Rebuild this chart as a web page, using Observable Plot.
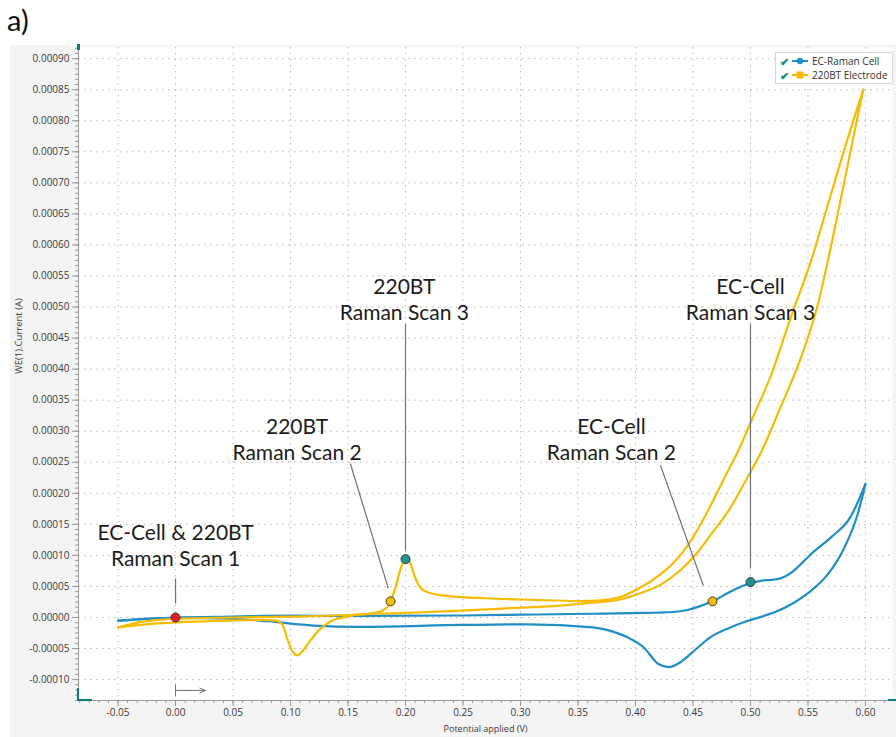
<!DOCTYPE html>
<html><head><meta charset="utf-8">
<script src="https://cdn.jsdelivr.net/npm/d3@7"></script>
<script src="https://cdn.jsdelivr.net/npm/@observablehq/plot@0.6"></script>
<style>
body{margin:0;background:#fff;}
#wrap{position:relative;width:896px;height:737px;overflow:hidden;font-family:"Open Sans",sans-serif;}
#bg{position:absolute;left:10px;top:45px;right:0;bottom:0;background:#f4f4f4;}
#chart{position:absolute;left:0;top:0;}
#panel{position:absolute;left:7px;top:2px;font:29px Lato,sans-serif;color:#111;}
#legend{position:absolute;left:775px;top:52px;width:116px;height:30px;border:1px solid #d6d6d6;background:#fff;font:10px "Open Sans",sans-serif;color:#333;}
.row{position:absolute;left:4px;height:14px;display:flex;align-items:center;white-space:nowrap;}
.chk{color:#1b8f86;font-size:11px;width:12px;font-weight:bold;}
.h{position:absolute;background:#0f7d77;}
</style></head>
<body><div id="wrap"><div id="bg"></div><div id="chart"></div><div id="panel">a)</div><div id="legend"></div>
<div class="h" style="left:77px;top:44px;width:3px;height:6px"></div>
<div class="h" style="left:77px;top:688px;width:2px;height:13px"></div>
<div class="h" style="left:77px;top:699px;width:15px;height:2px"></div>
<div class="h" style="left:888px;top:699px;width:8px;height:2px"></div>
</div>
<script>
// ---- data (potential V, current A) ----
const seriesNames = ["EC-Raman Cell", "220BT Electrode"];
const seriesColors = ["#1f8fc6", "#f7bb00"];

const ecForward = [
  [-0.05,-5e-6],[-0.026,-2.4e-6],[0.0,0],[0.05,1.6e-6],[0.10,3.0e-6],[0.16,2.5e-6],
  [0.25,3.2e-6],[0.30,4.5e-6],[0.363,6.0e-6],[0.41,7.5e-6],[0.425,8.2e-6],[0.437,9.6e-6],
  [0.446,1.25e-5],[0.455,1.75e-5],[0.467,2.6e-5],[0.480,3.9e-5],[0.492,5.0e-5],[0.501,5.6e-5],
  [0.510,5.95e-5],[0.518,6.05e-5],[0.526,6.3e-5],[0.532,6.8e-5],[0.538,7.6e-5],[0.546,9.0e-5],
  [0.555,1.06e-4],[0.570,1.29e-4],[0.587,1.62e-4],[0.600,2.15e-4]
];
const ecReverse = [
  [0.600,2.15e-4],[0.593,1.65e-4],[0.581,1.10e-4],[0.567,6.9e-5],[0.552,4.2e-5],[0.537,2.3e-5],
  [0.523,1.0e-5],[0.509,1e-6],[0.494,-7.6e-6],[0.480,-1.8e-5],[0.465,-3.2e-5],[0.452,-5.2e-5],
  [0.439,-7.2e-5],[0.429,-8.0e-5],[0.420,-7.5e-5],[0.407,-4.8e-5],[0.393,-3.2e-5],[0.375,-2.0e-5],
  [0.363,-1.6e-5],[0.306,-1.1e-5],[0.25,-1.2e-5],[0.16,-1.5e-5],[0.12,-1.3e-5],[0.08,-6e-6],
  [0.05,-2e-6],[0.0,-5e-7],[-0.05,-5e-6]
];
const btForward = [
  [-0.05,-1.6e-5],[-0.035,-9e-6],[-0.015,-4e-6],[0.0,-2e-6],[0.05,0],[0.10,1.5e-6],[0.15,4.0e-6],
  [0.172,7e-6],[0.181,1.2e-5],[0.187,2.6e-5],[0.192,5.3e-5],[0.196,8.0e-5],[0.200,9.4e-5],
  [0.204,8.8e-5],[0.208,6.6e-5],[0.213,4.8e-5],[0.222,3.9e-5],[0.24,3.4e-5],[0.27,3.1e-5],
  [0.31,2.85e-5],[0.35,2.65e-5],[0.37,2.75e-5],[0.385,3.2e-5],[0.402,4.6e-5],[0.422,7.0e-5],
  [0.432,8.6e-5],[0.441,1.05e-4],[0.450,1.29e-4],[0.463,1.72e-4],[0.476,2.2e-4],[0.490,2.71e-4],
  [0.502,3.22e-4],[0.517,3.86e-4],[0.535,4.83e-4],[0.554,5.82e-4],[0.563,6.38e-4],[0.572,6.94e-4],
  [0.584,7.68e-4],[0.598,8.50e-4]
];
const btReverse = [
  [0.598,8.50e-4],[0.590,7.78e-4],[0.582,7.05e-4],[0.575,6.42e-4],[0.568,5.80e-4],[0.558,5.0e-4],
  [0.543,4.14e-4],[0.526,3.38e-4],[0.510,2.69e-4],[0.496,2.21e-4],[0.481,1.72e-4],[0.467,1.37e-4],
  [0.454,1.05e-4],[0.439,7.6e-5],[0.422,5.3e-5],[0.404,3.9e-5],[0.387,2.9e-5],[0.363,2.4e-5],
  [0.335,1.9e-5],[0.291,1.5e-5],[0.248,1.1e-5],[0.196,7e-6],[0.161,5e-6],[0.148,1e-6],
  [0.135,-6e-6],[0.125,-2.0e-5],[0.116,-4.0e-5],[0.110,-5.5e-5],[0.106,-6.1e-5],[0.102,-5.6e-5],
  [0.0975,-3.6e-5],[0.093,-1.2e-5],[0.088,-5e-6],[0.074,-4e-6],[0.048,-5e-6],[0.0,-8e-6],
  [-0.026,-1.1e-5],[-0.05,-1.6e-5]
];

const markerX = [0.0, 0.187, 0.200, 0.467, 0.500];
const markerY = [0, 2.6e-5, 9.4e-5, 2.6e-5, 5.7e-5];
const markerFill = ["#e41e26", "#f7bb00", "#1d958f", "#f7bb00", "#1d958f"];

const annoText = ["EC-Cell & 220BT\nRaman Scan 1", "220BT\nRaman Scan 2", "220BT\nRaman Scan 3", "EC-Cell\nRaman Scan 2", "EC-Cell\nRaman Scan 3"];
const annoX = [0.0, 0.1057, 0.199, 0.379, 0.5];
const annoY = [1.175e-4, 2.88e-4, 5.14e-4, 2.88e-4, 5.14e-4];
const leadX1 = [0, 0.152, 0.2, 0.4217, 0.5];
const leadY1 = [6.3e-5, 2.48e-4, 4.73e-4, 2.45e-4, 4.73e-4];
const leadX2 = [0, 0.185, 0.2, 0.459, 0.5];
const leadY2 = [2.25e-5, 4.7e-5, 1.08e-4, 5.15e-5, 7.9e-5];

const scanArrowX = [0, 0.026];
const scanArrowY = -1.175e-4;
const scanBarY = [-1.08e-4, -1.27e-4];

const xTicks = [-0.05,0.00,0.05,0.10,0.15,0.20,0.25,0.30,0.35,0.40,0.45,0.50,0.55,0.60];
const yTicks = [-0.0001,-0.00005,0,0.00005,0.0001,0.00015,0.0002,0.00025,0.0003,0.00035,0.0004,
  0.00045,0.0005,0.00055,0.0006,0.00065,0.0007,0.00075,0.0008,0.00085,0.0009];
const xDomain = [-0.0844, 0.6235];
const yDomain = [-0.0001337, 0.000918];
const xLabel = "Potential applied (V)";
const yLabel = "WE(1).Current (A)";

// minor ticks: 6 subdivisions per major interval
const xMinor = d3.range(-0.1, 0.63, 0.05/6).filter(v => v >= xDomain[0] && v <= xDomain[1]);
const yMinor = d3.range(-0.00015, 0.00092, 0.00005/6).filter(v => v >= yDomain[0] && v <= yDomain[1]);

// each branch drawn in increasing-x order so a monotone curve can be used
const toObj = (arr) => arr.map(([x, y]) => ({x, y})).sort((a, b) => a.x - b.x);
const markers = markerX.map((x, i) => ({x, y: markerY[i], fill: markerFill[i]}));
const annos = annoText.map((t, i) => ({t, x: annoX[i], y: annoY[i]}));
const leads = leadX1.map((x1, i) => ({x1, y1: leadY1[i], x2: leadX2[i], y2: leadY2[i]}));

const lineOpts = (c) => ({x: "x", y: "y", stroke: c, strokeWidth: 2.2, curve: "monotone-x"});

const chart = Plot.plot({
  width: 896, height: 737,
  marginTop: 47, marginBottom: 37, marginLeft: 78, marginRight: 4,
  style: {background: "transparent", fontFamily: "Open Sans, sans-serif"},
  x: {domain: xDomain},
  y: {domain: yDomain},
  marks: [
    Plot.frame({fill: "white", stroke: null}),
    Plot.gridX({ticks: xTicks, stroke: "#b8b8b8", strokeOpacity: 1, strokeDasharray: "1.5,4.5"}),
    Plot.gridY({ticks: yTicks, stroke: "#b8b8b8", strokeOpacity: 1, strokeDasharray: "1.5,4.5"}),
    Plot.ruleX([xDomain[0]], {stroke: "#9a9a9a"}),
    Plot.ruleY([yDomain[0]], {stroke: "#9a9a9a"}),
    Plot.axisX({ticks: xMinor, tickSize: 3, tickFormat: () => "", label: null, stroke: "#999"}),
    Plot.axisY({ticks: yMinor, tickSize: 3, tickFormat: () => "", label: null, stroke: "#999"}),
    Plot.axisX({ticks: xTicks, tickSize: 6, tickPadding: 2, tickFormat: d => d.toFixed(2), label: null, fontSize: 10, stroke: "#999", fill: "#3a3a3a"}),
    Plot.axisY({ticks: yTicks, tickSize: 6, tickPadding: 3, tickFormat: d => d.toFixed(5), label: null, fontSize: 10, stroke: "#999", fill: "#3a3a3a"}),
    Plot.text([xLabel], {frameAnchor: "bottom", dy: 31, fontSize: 9, fill: "#3a3a3a"}),
    Plot.text([yLabel], {frameAnchor: "left", dx: -60, rotate: -90, fontSize: 9.5, fill: "#3a3a3a"}),
    Plot.line(toObj(ecReverse), lineOpts(seriesColors[0])),
    Plot.line(toObj(ecForward), lineOpts(seriesColors[0])),
    Plot.line(toObj(btReverse), lineOpts(seriesColors[1])),
    Plot.line(toObj(btForward), lineOpts(seriesColors[1])),
    Plot.link(leads, {x1: "x1", y1: "y1", x2: "x2", y2: "y2", stroke: "#707070", strokeWidth: 1.2}),
    Plot.dot(markers, {x: "x", y: "y", fill: "fill", stroke: "#3a3a3a", strokeWidth: 1, r: 4.5}),
    Plot.text(annos, {x: "x", y: "y", text: "t", fontSize: 21, lineHeight: 1.24, fontFamily: "Lato, sans-serif", fill: "#1c1c1c"}),
    Plot.arrow([0], {x1: () => scanArrowX[0], x2: () => scanArrowX[1], y1: () => scanArrowY, y2: () => scanArrowY, stroke: "#707070", strokeWidth: 1, headLength: 9, headAngle: 45}),
    Plot.link([0], {x1: () => scanArrowX[0], x2: () => scanArrowX[0], y1: () => scanBarY[0], y2: () => scanBarY[1], stroke: "#707070", strokeWidth: 1})
  ]
});
document.getElementById("chart").appendChild(chart);

// legend
const lg = document.getElementById("legend");
seriesNames.forEach((name, i) => {
  const marker = i === 0
    ? `<circle cx="8" cy="5" r="3.2" fill="${seriesColors[i]}"/>`
    : `<rect x="4.5" y="1.5" width="7" height="7" fill="${seriesColors[i]}"/>`;
  const row = document.createElement("div");
  row.className = "row";
  row.style.top = (i === 0 ? 1 : 15) + "px";
  row.innerHTML = `<span class="chk">&#10004;</span><svg width="17" height="10" style="margin-right:3px"><line x1="0" y1="5" x2="16" y2="5" stroke="${seriesColors[i]}" stroke-width="2"/>${marker}</svg><span>${name}</span>`;
  lg.appendChild(row);
});
</script></body></html>
